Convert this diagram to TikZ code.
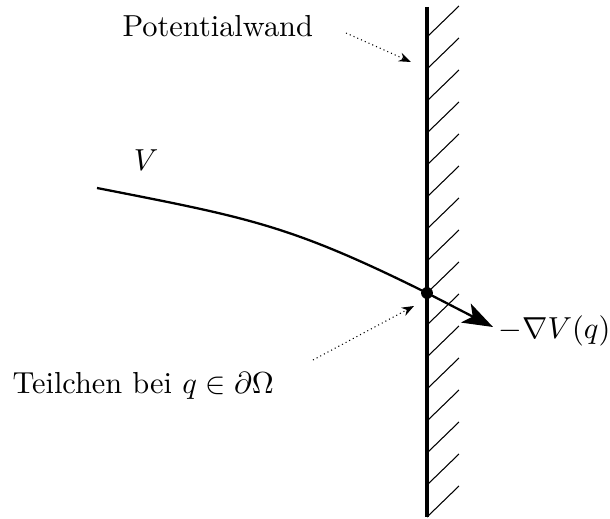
\documentclass[tikz,border=0pt]{standalone}
\usetikzlibrary{arrows.meta}
\begin{document}
\begin{tikzpicture}[x=0.329pt,y=-0.329pt,
  wall/.style={line width=1.3pt},
  hatch/.style={line width=0.35pt},
  curve/.style={line width=0.75pt},
  pointer/.style={densely dotted,line width=0.35pt,-{Stealth[length=4pt,width=3pt]}},
  lbl/.style={inner sep=0pt,anchor=base west},
  dotnode/.style={circle,fill=black,inner sep=0pt,minimum size=3.9pt}]
\useasboundingbox (0,0) rectangle (610,519);
% wall
\coordinate (wtop) at (427,7);
\coordinate (wbot) at (427,517);
\foreach \k in {0,...,15}{
  \draw[hatch] (427,37+32*\k) -- ++(32,-31);
}
\draw[wall] (wtop) -- (wbot);
% potential curve
\coordinate (vstart) at (97,188);
\node[dotnode] (q) at (427,293) {};
\coordinate (grad) at (493,327);
\draw[curve] (vstart) .. controls (250,218) and (290,225) .. (q.center);
\draw[curve,-{Stealth[length=10pt,width=7pt,inset=2.5pt]}] (q.center) -- (grad);
% labels
\node[lbl] (pw) at (122,37) {Potentialwand};
\node[inner sep=0pt] (vl) at (146,160) {$V$};
\node[lbl] (gl) at (498,339) {$-\nabla V(q)$};
\node[lbl] (tl) at (12,394) {Teilchen bei $q\in\partial\Omega$};
% pointers
\coordinate (pwa) at (346,33);
\coordinate (pwb) at (411,62);
\draw[pointer] (pwa) -- (pwb);
\coordinate (tla) at (313,360);
\coordinate (tlb) at (414,306);
\draw[pointer] (tla) -- (tlb);
\end{tikzpicture}
\end{document}
